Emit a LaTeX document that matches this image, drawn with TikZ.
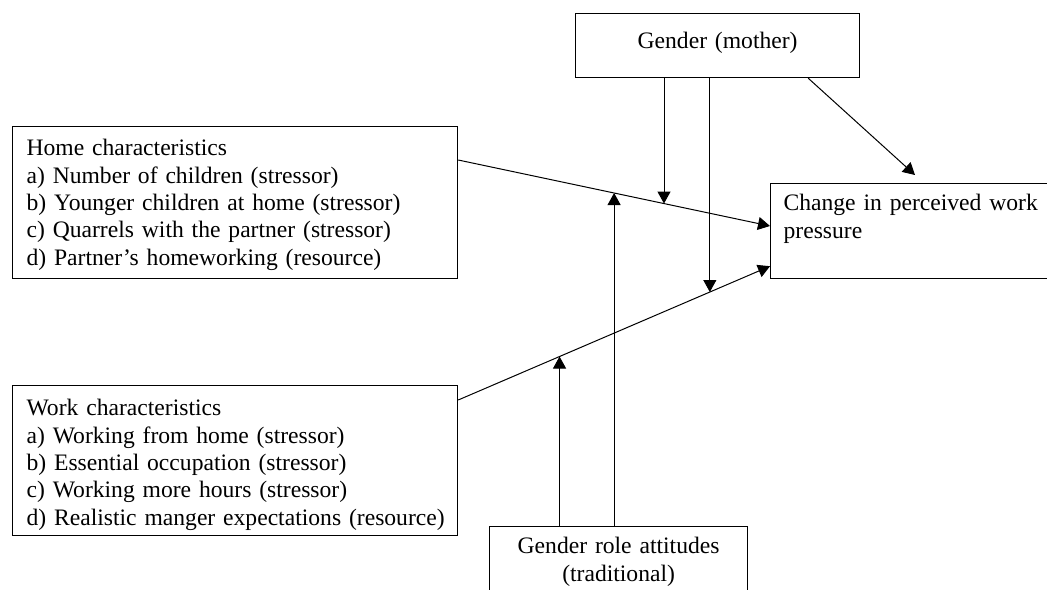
\documentclass[tikz,border=0pt]{standalone}
\usepackage{fontspec}
\setmainfont{Liberation Serif}
\usetikzlibrary{arrows.meta}
\begin{document}
\begin{tikzpicture}[x=0.5pt,y=-0.5pt,
  box/.style={draw,line width=0.6pt,anchor=north west,inner ysep=0pt,font=\fontsize{11.8}{13.7}\selectfont},
  arr/.style={line width=0.5pt,-{Triangle[length=6pt,width=6.5pt]}}]
\useasboundingbox (0,0) rectangle (1047,589);
\node[box,inner xsep=0pt,text width=142pt,align=center,text height=17.5pt,text depth=14.5pt] (gender) at (575,13) {Gender (mother)};
\node[box,inner xsep=7pt,text width=208.5pt,align=left,text height=14.5pt,text depth=61.5pt] (home) at (12,126) {Home characteristics\\a) Number of children (stressor)\\b) Younger children at home (stressor)\\c) Quarrels with the partner (stressor)\\d) Partner’s homeworking (resource)};
\node[box,inner xsep=7pt,text width=208.5pt,align=left,text height=15pt,text depth=60pt] (work) at (12,385) {Work characteristics\\a) Working from home (stressor)\\b) Essential occupation (stressor)\\c) Working more hours (stressor)\\\mbox{d) Realistic manger expectations (resource)}};
\node[box,inner xsep=6.5pt,text width=137pt,align=left,text height=13.5pt,text depth=34pt] (change) at (770,183) {Change in perceived work\\pressure};
\node[box,inner xsep=0pt,text width=129pt,align=center,text height=13.5pt,text depth=23.5pt] (attitude) at (489,526) {Gender role attitudes\\(traditional)};
\draw[arr] ([yshift=-17pt]home.north east) -- coordinate[pos=0.5] (hm) coordinate[pos=0.66] (hg) ([yshift=-21.5pt]change.north west);
\draw[arr] ([yshift=-7.5pt]work.north east) -- coordinate[pos=0.325] (wm) coordinate[pos=0.807] (wg) ([yshift=6.5pt]change.south west);
\draw[arr] ([xshift=-26pt]gender.south east) -- ([xshift=72.5pt,yshift=4pt]change.north west);
\draw[arr] (gender.south -| hg) -- (hg);
\draw[arr] (gender.south -| wg) -- (wg);
\draw[arr] (attitude.north -| wm) -- (wm);
\draw[arr] (attitude.north -| hm) -- (hm);
\end{tikzpicture}
\end{document}
